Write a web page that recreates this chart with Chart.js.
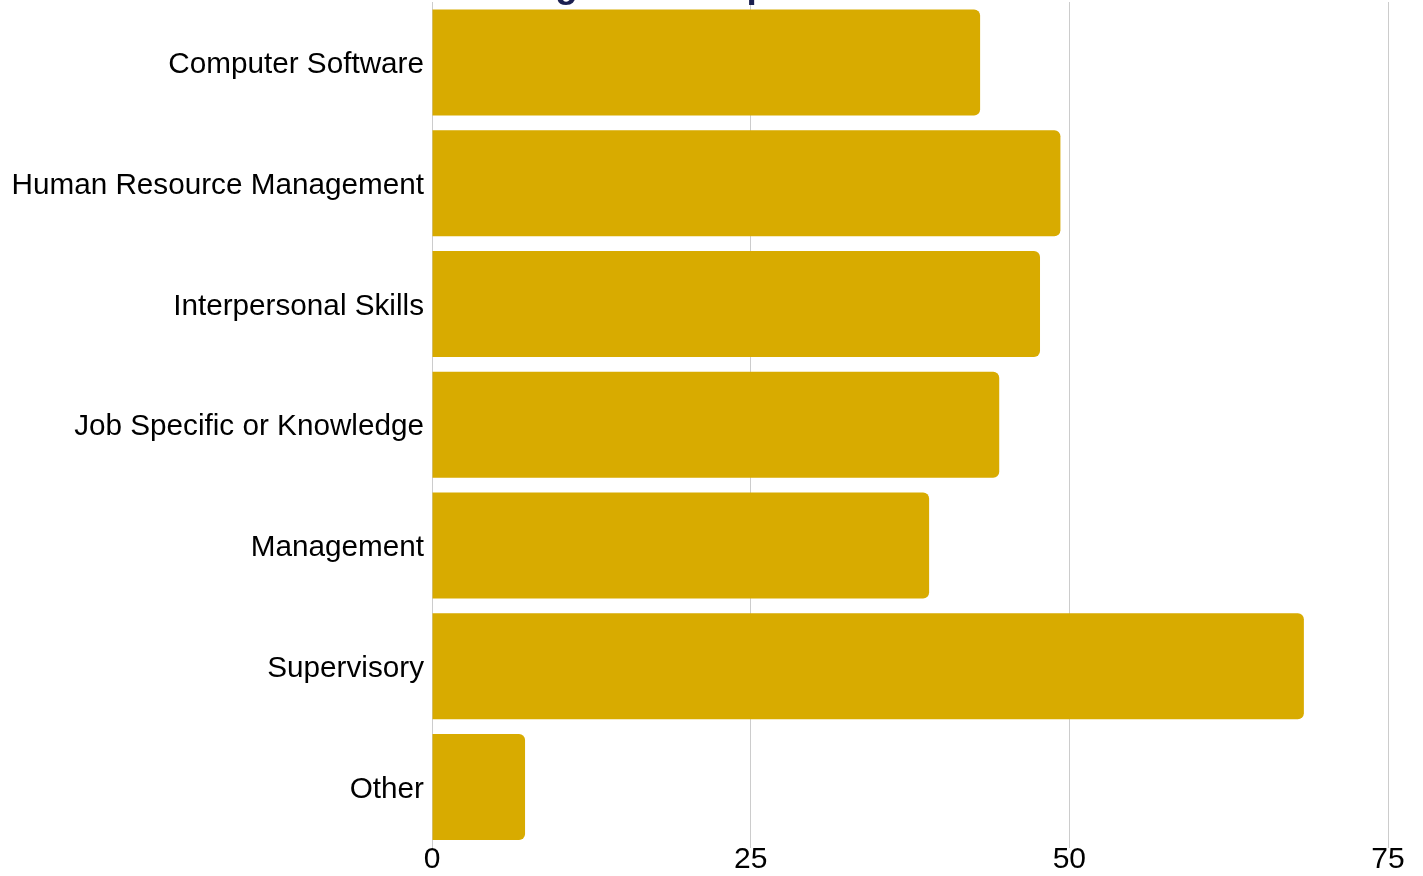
<!DOCTYPE html>
<html lang="en">
<head>
<meta charset="utf-8">
<title>Training &amp; Development</title>
<script src="https://cdn.jsdelivr.net/npm/chart.js@4.4.1/dist/chart.umd.min.js"></script>
<style>
  html, body {
    margin: 0;
    padding: 0;
    background: #ffffff;
    overflow: hidden;
  }
  .chart-wrap {
    position: relative;
    width: 1423px;
    height: 876px;
  }
  .chart-title {
    position: absolute;
    left: 434px;
    top: -34px;
    margin: 0;
    font: bold 37px "Liberation Sans", Arial, sans-serif;
    line-height: 37px;
    color: #1b1f4f;
    white-space: nowrap;
    z-index: 2;
  }
  #chartTraining {
    position: absolute;
    left: 0;
    top: 0;
  }
</style>
</head>
<body>
<div class="chart-wrap">
  <h1 class="chart-title">Training &amp; Development</h1>
  <canvas id="chartTraining" width="1423" height="876"></canvas>
</div>

<script>
// Training topics and number of responses
const topics = [
  "Computer Software",
  "Human Resource Management",
  "Interpersonal Skills",
  "Job Specific or Knowledge",
  "Management",
  "Supervisory",
  "Other",
];
const responses = [43, 49.3, 47.7, 44.5, 39, 68.4, 7.3];
const xTicks = [0, 25, 50, 75];

const barColor = "#d8ab00";
const gridColor = "#cccccc";
const textColor = "#000000";
const fontFamily = "'Liberation Sans', Arial, sans-serif";

document.addEventListener("DOMContentLoaded", function () {
  initTrainingChart();
});

// Horizontal bar chart of training topics
function initTrainingChart() {
  const ctx = document.getElementById("chartTraining");
  if (!ctx) return;

  new Chart(ctx, {
    type: "bar",
    data: {
      labels: topics,
      datasets: [
        {
          label: "Responses",
          data: responses,
          backgroundColor: barColor,
          borderRadius: 6,
          borderSkipped: "start",
          categoryPercentage: 1,
          barPercentage: 0.8776,
        },
      ],
    },
    options: {
      indexAxis: "y",
      responsive: false,
      animation: false,
      layout: {
        padding: { top: 2, right: 35, bottom: 0, left: 0 },
      },
      plugins: {
        legend: { display: false },
        tooltip: { enabled: false },
      },
      scales: {
        x: {
          min: xTicks[0],
          max: xTicks[xTicks.length - 1],
          afterBuildTicks: function (scale) {
            scale.ticks = xTicks.map(function (v) {
              return { value: v };
            });
          },
          afterFit: function (scale) {
            scale.height = 28.5;
          },
          grid: {
            color: gridColor,
            lineWidth: 1,
            drawTicks: false,
          },
          border: { display: false },
          ticks: {
            padding: 0,
            color: textColor,
            font: { family: fontFamily, size: 30, lineHeight: "24px" },
          },
        },
        y: {
          afterFit: function (scale) {
            // fixed label column, no extra end padding
            scale.width = 432;
            scale.paddingTop = 0;
            scale.paddingBottom = 0;
          },
          grid: { display: false, drawTicks: false },
          border: { display: true, color: gridColor, width: 1 },
          ticks: {
            padding: 8,
            labelOffset: 2.5,
            color: textColor,
            font: { family: fontFamily, size: 29.7 },
          },
        },
      },
    },
  });
}
</script>
</body>
</html>
